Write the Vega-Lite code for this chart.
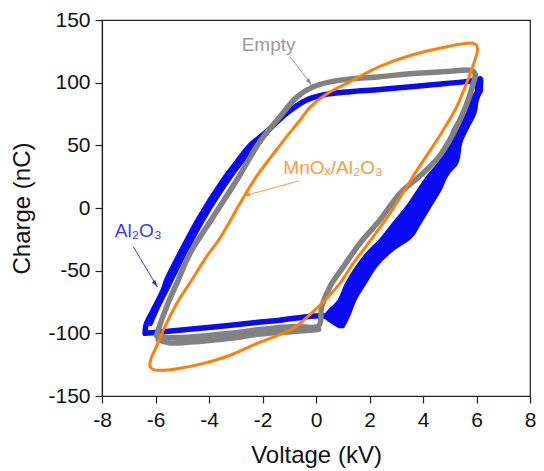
{
  "$schema": "https://vega.github.io/schema/vega-lite/v6.json",
  "width": 428,
  "height": 376,
  "autosize": {"type": "none"},
  "padding": {"left": 102, "top": 20, "right": 14, "bottom": 75},
  "background": "white",
  "config": {
    "view": {"stroke": "#222222", "strokeWidth": 1.2},
    "font": "Liberation Sans",
    "axis": {
      "labelFont": "Liberation Sans",
      "titleFont": "Liberation Sans",
      "labelFontSize": 21,
      "titleFontSize": 24,
      "titleFontWeight": "normal",
      "labelColor": "#111111",
      "titleColor": "#111111",
      "domainColor": "#222222",
      "tickColor": "#222222",
      "domainWidth": 1.2,
      "tickWidth": 1.2,
      "grid": false,
      "labelOverlap": false,
      "labelFlush": false,
      "labelBound": false
    }
  },
  "datasets": {
    "loops": [
      {"s": "Al2O3", "t": "a", "i": 1, "v": -6.39, "q": -100},
      {"s": "Al2O3", "t": "a", "i": 2, "v": -6.35, "q": -93},
      {"s": "Al2O3", "t": "a", "i": 3, "v": -6.08, "q": -81.4},
      {"s": "Al2O3", "t": "a", "i": 4, "v": -5.71, "q": -65.4},
      {"s": "Al2O3", "t": "a", "i": 5, "v": -5.58, "q": -57.5},
      {"s": "Al2O3", "t": "a", "i": 6, "v": -5.08, "q": -36.2},
      {"s": "Al2O3", "t": "a", "i": 7, "v": -4.34, "q": -7},
      {"s": "Al2O3", "t": "a", "i": 8, "v": -3.46, "q": 22.3},
      {"s": "Al2O3", "t": "a", "i": 9, "v": -2.96, "q": 36.5},
      {"s": "Al2O3", "t": "a", "i": 10, "v": -2.5, "q": 49},
      {"s": "Al2O3", "t": "a", "i": 11, "v": -1.84, "q": 61},
      {"s": "Al2O3", "t": "a", "i": 12, "v": -1.1, "q": 75.6},
      {"s": "Al2O3", "t": "a", "i": 13, "v": -0.35, "q": 86.2},
      {"s": "Al2O3", "t": "a", "i": 14, "v": 0.27, "q": 90.2},
      {"s": "Al2O3", "t": "a", "i": 15, "v": 1.27, "q": 92.8},
      {"s": "Al2O3", "t": "a", "i": 16, "v": 2.39, "q": 94.5},
      {"s": "Al2O3", "t": "a", "i": 17, "v": 4.26, "q": 98.1},
      {"s": "Al2O3", "t": "a", "i": 18, "v": 6.0, "q": 102},
      {"s": "Al2O3", "t": "a", "i": 19, "v": 6.15, "q": 103},
      {"s": "Al2O3", "t": "a", "i": 20, "v": 6.12, "q": 95},
      {"s": "Al2O3", "t": "a", "i": 21, "v": 5.95, "q": 85},
      {"s": "Al2O3", "t": "a", "i": 22, "v": 5.72, "q": 75.6},
      {"s": "Al2O3", "t": "a", "i": 23, "v": 5.38, "q": 62},
      {"s": "Al2O3", "t": "a", "i": 24, "v": 5.23, "q": 54},
      {"s": "Al2O3", "t": "a", "i": 25, "v": 4.9, "q": 35.6},
      {"s": "Al2O3", "t": "a", "i": 26, "v": 4.6, "q": 27.7},
      {"s": "Al2O3", "t": "a", "i": 27, "v": 4.25, "q": 14.4},
      {"s": "Al2O3", "t": "a", "i": 28, "v": 3.82, "q": 0.9},
      {"s": "Al2O3", "t": "a", "i": 29, "v": 3.39, "q": -12.2},
      {"s": "Al2O3", "t": "a", "i": 30, "v": 2.92, "q": -25.5},
      {"s": "Al2O3", "t": "a", "i": 31, "v": 2.4, "q": -33.5},
      {"s": "Al2O3", "t": "a", "i": 32, "v": 1.87, "q": -46.8},
      {"s": "Al2O3", "t": "a", "i": 33, "v": 1.49, "q": -60},
      {"s": "Al2O3", "t": "a", "i": 34, "v": 1.16, "q": -73.4},
      {"s": "Al2O3", "t": "a", "i": 35, "v": 0.77, "q": -86.7},
      {"s": "Al2O3", "t": "a", "i": 36, "v": 0.2, "q": -86},
      {"s": "Al2O3", "t": "a", "i": 37, "v": -0.35, "q": -86.7},
      {"s": "Al2O3", "t": "a", "i": 38, "v": -1.35, "q": -89.5},
      {"s": "Al2O3", "t": "a", "i": 39, "v": -2.09, "q": -91},
      {"s": "Al2O3", "t": "a", "i": 40, "v": -3.84, "q": -95},
      {"s": "Al2O3", "t": "a", "i": 41, "v": -5.71, "q": -98.7},
      {"s": "Al2O3", "t": "a", "i": 42, "v": -6.39, "q": -100},
      {"s": "Al2O3", "t": "a2", "i": 1, "v": -6.2, "q": -92},
      {"s": "Al2O3", "t": "a2", "i": 2, "v": -5.95, "q": -80},
      {"s": "Al2O3", "t": "a2", "i": 3, "v": -5.55, "q": -63},
      {"s": "Al2O3", "t": "a2", "i": 4, "v": -4.93, "q": -36.2},
      {"s": "Al2O3", "t": "a2", "i": 5, "v": -4.18, "q": -7},
      {"s": "Al2O3", "t": "a2", "i": 6, "v": -3.3, "q": 22.3},
      {"s": "Al2O3", "t": "a2", "i": 7, "v": -2.8, "q": 37},
      {"s": "Al2O3", "t": "a2", "i": 8, "v": -2.35, "q": 49},

      {"s": "Empty", "t": "e1", "i": 1, "v": -5.96, "q": -102},
      {"s": "Empty", "t": "e1", "i": 2, "v": -5.9, "q": -97.4},
      {"s": "Empty", "t": "e1", "i": 3, "v": -5.55, "q": -77},
      {"s": "Empty", "t": "e1", "i": 4, "v": -5.15, "q": -57.5},
      {"s": "Empty", "t": "e1", "i": 5, "v": -4.71, "q": -36.2},
      {"s": "Empty", "t": "e1", "i": 6, "v": -3.84, "q": -7},
      {"s": "Empty", "t": "e1", "i": 7, "v": -2.96, "q": 22.3},
      {"s": "Empty", "t": "e1", "i": 8, "v": -2.5, "q": 39},
      {"s": "Empty", "t": "e1", "i": 9, "v": -2.1, "q": 53},
      {"s": "Empty", "t": "e1", "i": 10, "v": -1.35, "q": 72.8},
      {"s": "Empty", "t": "e1", "i": 11, "v": -0.72, "q": 88.5},
      {"s": "Empty", "t": "e1", "i": 12, "v": -0.1, "q": 96.8},
      {"s": "Empty", "t": "e1", "i": 13, "v": 0.9, "q": 102},
      {"s": "Empty", "t": "e1", "i": 14, "v": 2.39, "q": 104.8},
      {"s": "Empty", "t": "e1", "i": 15, "v": 3.64, "q": 107.3},
      {"s": "Empty", "t": "e1", "i": 16, "v": 4.89, "q": 109},
      {"s": "Empty", "t": "e1", "i": 17, "v": 5.85, "q": 109.6},
      {"s": "Empty", "t": "e1", "i": 18, "v": 5.95, "q": 107},
      {"s": "Empty", "t": "e1", "i": 19, "v": 5.88, "q": 99.5},
      {"s": "Empty", "t": "e1", "i": 20, "v": 5.69, "q": 86.2},
      {"s": "Empty", "t": "e1", "i": 21, "v": 5.38, "q": 70.2},
      {"s": "Empty", "t": "e1", "i": 22, "v": 5.0, "q": 54.3},
      {"s": "Empty", "t": "e1", "i": 23, "v": 4.6, "q": 41},
      {"s": "Empty", "t": "e1", "i": 24, "v": 4.01, "q": 28},
      {"s": "Empty", "t": "e1", "i": 25, "v": 3.14, "q": 11.7},
      {"s": "Empty", "t": "e1", "i": 26, "v": 2.39, "q": -9.6},
      {"s": "Empty", "t": "e1", "i": 27, "v": 1.64, "q": -28.2},
      {"s": "Empty", "t": "e1", "i": 28, "v": 1.02, "q": -47},
      {"s": "Empty", "t": "e1", "i": 29, "v": 0.52, "q": -62.8},
      {"s": "Empty", "t": "e1", "i": 30, "v": 0.21, "q": -78.8},
      {"s": "Empty", "t": "e1", "i": 31, "v": 0.1, "q": -94},
      {"s": "Empty", "t": "e1", "i": 32, "v": -0.85, "q": -94.5},
      {"s": "Empty", "t": "e1", "i": 33, "v": -2.09, "q": -97},
      {"s": "Empty", "t": "e1", "i": 34, "v": -3.21, "q": -100},
      {"s": "Empty", "t": "e1", "i": 35, "v": -4.7, "q": -103},
      {"s": "Empty", "t": "e1", "i": 36, "v": -5.5, "q": -103.5},
      {"s": "Empty", "t": "e1", "i": 37, "v": -5.96, "q": -102},
      {"s": "Empty", "t": "e2", "i": 1, "v": 0.1, "q": -97},
      {"s": "Empty", "t": "e2", "i": 2, "v": -0.85, "q": -98.5},
      {"s": "Empty", "t": "e2", "i": 3, "v": -2.09, "q": -100.5},
      {"s": "Empty", "t": "e2", "i": 4, "v": -3.21, "q": -104},
      {"s": "Empty", "t": "e2", "i": 5, "v": -4.7, "q": -107},
      {"s": "Empty", "t": "e2", "i": 6, "v": -5.5, "q": -107.5},
      {"s": "Empty", "t": "e2", "i": 7, "v": -5.9, "q": -105},

      {"s": "MnOx", "t": "m", "i": 1, "v": -6.05, "q": -129.2},
      {"s": "MnOx", "t": "m", "i": 2, "v": -6.2, "q": -126.5},
      {"s": "MnOx", "t": "m", "i": 3, "v": -6.18, "q": -121},
      {"s": "MnOx", "t": "m", "i": 4, "v": -5.95, "q": -110},
      {"s": "MnOx", "t": "m", "i": 5, "v": -5.71, "q": -97.4},
      {"s": "MnOx", "t": "m", "i": 6, "v": -5.2, "q": -76},
      {"s": "MnOx", "t": "m", "i": 7, "v": -4.6, "q": -56},
      {"s": "MnOx", "t": "m", "i": 8, "v": -4.1, "q": -39},
      {"s": "MnOx", "t": "m", "i": 9, "v": -3.59, "q": -24},
      {"s": "MnOx", "t": "m", "i": 10, "v": -2.84, "q": 3.7},
      {"s": "MnOx", "t": "m", "i": 11, "v": -2.5, "q": 16},
      {"s": "MnOx", "t": "m", "i": 12, "v": -2.1, "q": 29},
      {"s": "MnOx", "t": "m", "i": 13, "v": -1.6, "q": 43},
      {"s": "MnOx", "t": "m", "i": 14, "v": -1.1, "q": 57},
      {"s": "MnOx", "t": "m", "i": 15, "v": -0.6, "q": 70},
      {"s": "MnOx", "t": "m", "i": 16, "v": -0.22, "q": 80.5},
      {"s": "MnOx", "t": "m", "i": 17, "v": 0.4, "q": 91},
      {"s": "MnOx", "t": "m", "i": 18, "v": 1.27, "q": 100.8},
      {"s": "MnOx", "t": "m", "i": 19, "v": 2.39, "q": 113},
      {"s": "MnOx", "t": "m", "i": 20, "v": 3.64, "q": 122.5},
      {"s": "MnOx", "t": "m", "i": 21, "v": 4.89, "q": 128.7},
      {"s": "MnOx", "t": "m", "i": 22, "v": 5.5, "q": 131},
      {"s": "MnOx", "t": "m", "i": 23, "v": 5.85, "q": 131.5},
      {"s": "MnOx", "t": "m", "i": 24, "v": 6.0, "q": 130},
      {"s": "MnOx", "t": "m", "i": 25, "v": 6.04, "q": 126},
      {"s": "MnOx", "t": "m", "i": 26, "v": 5.94, "q": 118},
      {"s": "MnOx", "t": "m", "i": 27, "v": 5.63, "q": 99.5},
      {"s": "MnOx", "t": "m", "i": 28, "v": 5.26, "q": 80.8},
      {"s": "MnOx", "t": "m", "i": 29, "v": 4.76, "q": 62.2},
      {"s": "MnOx", "t": "m", "i": 30, "v": 4.3, "q": 47},
      {"s": "MnOx", "t": "m", "i": 31, "v": 3.8, "q": 31},
      {"s": "MnOx", "t": "m", "i": 32, "v": 3.39, "q": 17},
      {"s": "MnOx", "t": "m", "i": 33, "v": 2.77, "q": -4.2},
      {"s": "MnOx", "t": "m", "i": 34, "v": 2.14, "q": -22.9},
      {"s": "MnOx", "t": "m", "i": 35, "v": 1.77, "q": -33.5},
      {"s": "MnOx", "t": "m", "i": 36, "v": 1.39, "q": -44.2},
      {"s": "MnOx", "t": "m", "i": 37, "v": 0.9, "q": -60},
      {"s": "MnOx", "t": "m", "i": 38, "v": 0.45, "q": -71},
      {"s": "MnOx", "t": "m", "i": 39, "v": 0.03, "q": -80},
      {"s": "MnOx", "t": "m", "i": 40, "v": -0.85, "q": -96},
      {"s": "MnOx", "t": "m", "i": 41, "v": -1.4, "q": -101.5},
      {"s": "MnOx", "t": "m", "i": 42, "v": -2.09, "q": -107},
      {"s": "MnOx", "t": "m", "i": 43, "v": -3.21, "q": -117.5},
      {"s": "MnOx", "t": "m", "i": 44, "v": -4.2, "q": -124},
      {"s": "MnOx", "t": "m", "i": 45, "v": -5.08, "q": -127.9},
      {"s": "MnOx", "t": "m", "i": 46, "v": -5.7, "q": -129.5},
      {"s": "MnOx", "t": "m", "i": 47, "v": -6.05, "q": -129.2}
    ],
    "blueband": [
      {"q": 103.5, "lo": 5.8, "hi": 6.22},
      {"q": 94, "lo": 5.94, "hi": 6.25},
      {"q": 88.8, "lo": 5.75, "hi": 6.13},
      {"q": 75.6, "lo": 5.45, "hi": 6.0},
      {"q": 62.2, "lo": 5.07, "hi": 5.69},
      {"q": 54.3, "lo": 4.95, "hi": 5.51},
      {"q": 35.6, "lo": 4.51, "hi": 5.32},
      {"q": 27.7, "lo": 4.2, "hi": 5.01},
      {"q": 14.4, "lo": 3.76, "hi": 4.7},
      {"q": 0.9, "lo": 3.33, "hi": 4.32},
      {"q": -12.2, "lo": 2.83, "hi": 3.95},
      {"q": -25.5, "lo": 2.33, "hi": 3.51},
      {"q": -33.5, "lo": 1.95, "hi": 2.95},
      {"q": -46.8, "lo": 1.46, "hi": 2.3},
      {"q": -60, "lo": 1.08, "hi": 1.9},
      {"q": -73.4, "lo": 0.8, "hi": 1.52},
      {"q": -86.7, "lo": 0.3, "hi": 1.27},
      {"q": -92, "lo": 0.55, "hi": 1.15},
      {"q": -96, "lo": 0.85, "hi": 1.05}
    ],
    "arrows": [
      {"s": "Empty", "v": -0.97, "q": 120.7, "v2": -0.16, "q2": 98.1},
      {"s": "MnOx", "v": -0.64, "q": 21.6, "v2": -2.72, "q2": 9.5},
      {"s": "Al2O3", "v": -6.83, "q": -31, "v2": -5.93, "q2": -63}
    ],
    "notes": [
      {"s": "Empty", "v": -2.78, "q": 124.9, "text": "Empty"},
      {"s": "MnOx", "v": -1.22, "q": 27.5, "text": "MnOₓ/Al₂O₃"},
      {"s": "Al2O3", "v": -7.52, "q": -23.4, "text": "Al₂O₃"}
    ]
  },
  "layer": [
    {
      "data": {"name": "blueband"},
      "mark": {"type": "area", "orient": "horizontal", "color": "#0a0af5", "opacity": 1, "interpolate": "monotone"},
      "encoding": {
        "y": {"field": "q", "type": "quantitative", "scale": {"domain": [-150, 150], "nice": false, "zero": false},
          "axis": {
            "values": [-150, -125, -100, -75, -50, -25, 0, 25, 50, 75, 100, 125, 150],
            "labelExpr": "datum.value % 50 === 0 ? '' + datum.value : ''",
            "tickSize": {"condition": {"test": "datum.value % 50 === 0", "value": 7}, "value": 4},
            "labelPadding": 5,
            "title": "Charge (nC)",
            "titlePadding": 13
          }},
        "x": {"field": "lo", "type": "quantitative", "scale": {"domain": [-8, 8], "nice": false, "zero": false},
          "axis": {
            "values": [-8, -7, -6, -5, -4, -3, -2, -1, 0, 1, 2, 3, 4, 5, 6, 7, 8],
            "labelExpr": "datum.value % 2 === 0 ? '' + datum.value : ''",
            "tickSize": {"condition": {"test": "datum.value % 2 === 0", "value": 7}, "value": 4},
            "labelPadding": 6,
            "title": "Voltage (kV)",
            "titlePadding": 13
          }},
        "x2": {"field": "hi"}
      }
    },
    {
      "data": {"name": "loops"},
      "transform": [{"filter": "datum.s === 'Al2O3'"}],
      "mark": {"type": "line", "color": "#0a0af5", "strokeWidth": 5.5, "strokeJoin": "round", "strokeCap": "round", "interpolate": "catmull-rom"},
      "encoding": {
        "x": {"field": "v", "type": "quantitative"},
        "y": {"field": "q", "type": "quantitative"},
        "order": {"field": "i"},
        "detail": {"field": "t"}
      }
    },
    {
      "data": {"name": "loops"},
      "transform": [{"filter": "datum.s === 'Empty'"}],
      "mark": {"type": "line", "color": "#828282", "strokeWidth": 5.5, "strokeJoin": "round", "strokeCap": "round", "interpolate": "catmull-rom"},
      "encoding": {
        "x": {"field": "v", "type": "quantitative"},
        "y": {"field": "q", "type": "quantitative"},
        "order": {"field": "i"},
        "detail": {"field": "t"}
      }
    },
    {
      "data": {"name": "loops"},
      "transform": [{"filter": "datum.s === 'MnOx'"}],
      "mark": {"type": "line", "color": "#ff7f0a", "strokeWidth": 3, "strokeJoin": "round", "strokeCap": "round", "interpolate": "catmull-rom"},
      "encoding": {
        "x": {"field": "v", "type": "quantitative"},
        "y": {"field": "q", "type": "quantitative"},
        "order": {"field": "i"},
        "detail": {"field": "t"}
      }
    },
    {
      "data": {"name": "arrows"},
      "mark": {"type": "rule", "strokeWidth": 1},
      "encoding": {
        "x": {"field": "v", "type": "quantitative"},
        "y": {"field": "q", "type": "quantitative"},
        "x2": {"field": "v2"},
        "y2": {"field": "q2"},
        "color": {"field": "s", "type": "nominal", "scale": {"domain": ["Empty", "MnOx", "Al2O3"], "range": ["#9a9a9a", "#ff9a40", "#3a3aff"]}, "legend": null}
      }
    },
    {
      "data": {"name": "arrows"},
      "transform": [{"filter": "datum.s === 'Empty'"}],
      "mark": {"type": "point", "shape": "M0,0L0.8,2.8L-0.8,2.8Z", "filled": true, "size": 25, "angle": 142.5, "color": "#8a8a8a", "opacity": 1},
      "encoding": {"x": {"field": "v2", "type": "quantitative"}, "y": {"field": "q2", "type": "quantitative"}}
    },
    {
      "data": {"name": "arrows"},
      "transform": [{"filter": "datum.s === 'MnOx'"}],
      "mark": {"type": "point", "shape": "M0,0L0.8,2.8L-0.8,2.8Z", "filled": true, "size": 25, "angle": 254.7, "color": "#ff8c1a", "opacity": 1},
      "encoding": {"x": {"field": "v2", "type": "quantitative"}, "y": {"field": "q2", "type": "quantitative"}}
    },
    {
      "data": {"name": "arrows"},
      "transform": [{"filter": "datum.s === 'Al2O3'"}],
      "mark": {"type": "point", "shape": "M0,0L0.8,2.8L-0.8,2.8Z", "filled": true, "size": 25, "angle": 147.1, "color": "#1a1aff", "opacity": 1},
      "encoding": {"x": {"field": "v2", "type": "quantitative"}, "y": {"field": "q2", "type": "quantitative"}}
    },
    {
      "data": {"name": "notes"},
      "mark": {"type": "text", "align": "left", "baseline": "alphabetic", "fontSize": 19, "font": "Liberation Sans"},
      "encoding": {
        "x": {"field": "v", "type": "quantitative"},
        "y": {"field": "q", "type": "quantitative"},
        "text": {"field": "text"},
        "color": {"field": "s", "type": "nominal", "scale": {"domain": ["Empty", "MnOx", "Al2O3"], "range": ["#444444", "#ff8c1a", "#1a1aff"]}, "legend": null}
      }
    }
  ]
}
